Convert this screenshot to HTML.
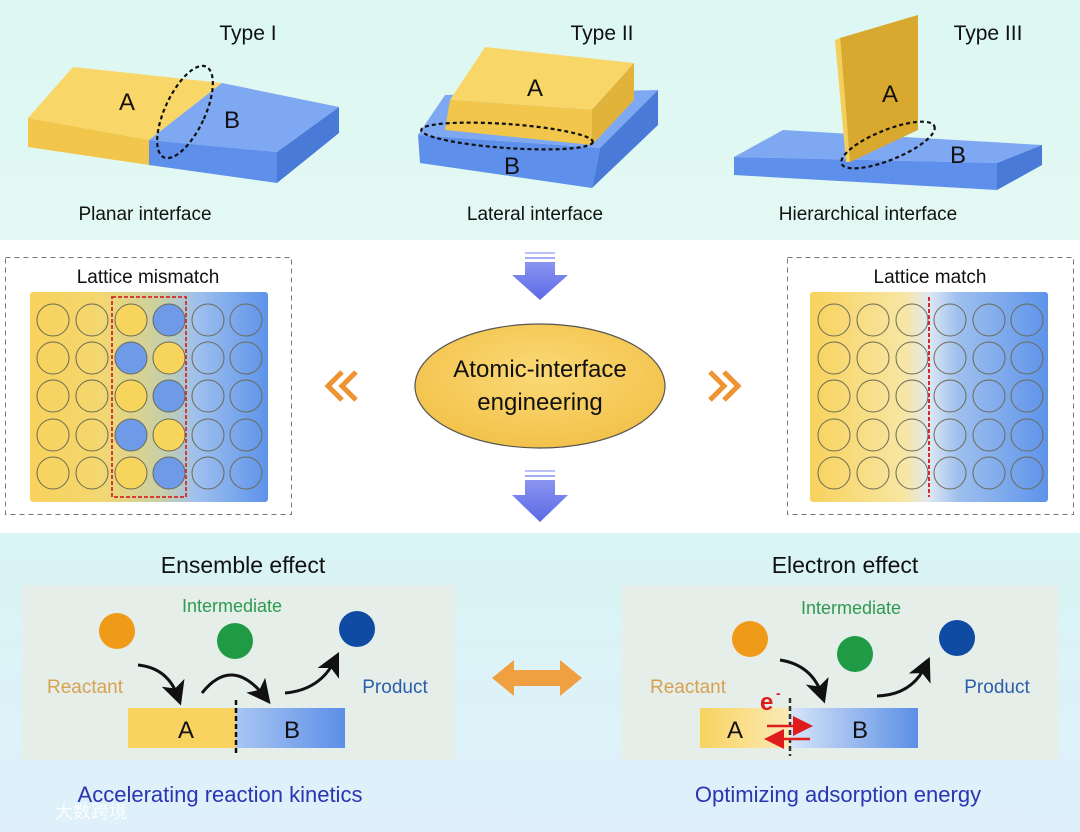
<!DOCTYPE html>
<html><head><meta charset="utf-8"><style>
html,body{margin:0;padding:0;background:#fff}
svg{display:block}
text{font-family:"Liberation Sans","Noto Sans CJK SC",sans-serif}
</style></head><body>
<svg width="1080" height="832" viewBox="0 0 1080 832" xmlns="http://www.w3.org/2000/svg">
<defs>
<linearGradient id="topbg" x1="0" y1="0" x2="0" y2="1"><stop offset="0" stop-color="#dcf7f2"/><stop offset="1" stop-color="#e3f8f3"/></linearGradient>
<linearGradient id="botbg" x1="0" y1="0" x2="0" y2="1"><stop offset="0" stop-color="#d9f5f5"/><stop offset="1" stop-color="#dff0fb"/></linearGradient>
<linearGradient id="latL" x1="0" y1="0" x2="1" y2="0"><stop offset="0" stop-color="#f8d25c"/><stop offset="0.3" stop-color="#f3d770"/><stop offset="0.55" stop-color="#c8d0a6"/><stop offset="0.7" stop-color="#9fc0ee"/><stop offset="1" stop-color="#5d93ea"/></linearGradient>
<linearGradient id="latR" x1="0" y1="0" x2="1" y2="0"><stop offset="0" stop-color="#f8d25c"/><stop offset="0.4" stop-color="#f7e6a4"/><stop offset="0.5" stop-color="#dfe8f3"/><stop offset="0.62" stop-color="#9fc0ee"/><stop offset="1" stop-color="#5d93ea"/></linearGradient>
<radialGradient id="ell" cx="0.5" cy="0.4" r="0.6"><stop offset="0" stop-color="#fbd976"/><stop offset="1" stop-color="#f2c24a"/></radialGradient>
<linearGradient id="barB" x1="0" y1="0" x2="1" y2="0"><stop offset="0" stop-color="#a9c6f4"/><stop offset="1" stop-color="#5b8fe6"/></linearGradient>
<linearGradient id="barA" x1="0" y1="0" x2="1" y2="0"><stop offset="0" stop-color="#f9d35f"/><stop offset="1" stop-color="#faeab8"/></linearGradient>
<linearGradient id="barB2" x1="0" y1="0" x2="1" y2="0"><stop offset="0" stop-color="#d7e5f8"/><stop offset="1" stop-color="#5b8fe6"/></linearGradient>
<linearGradient id="darr" x1="0" y1="0" x2="0" y2="1"><stop offset="0" stop-color="#8a95f0"/><stop offset="1" stop-color="#5c69e6"/></linearGradient>
<marker id="ah" markerWidth="8" markerHeight="8" refX="5" refY="4" orient="auto"><path d="M0,0 L8,4 L0,8 L2,4 z" fill="#111"/></marker>
<marker id="rh" markerWidth="8" markerHeight="8" refX="6" refY="4" orient="auto"><path d="M0,0 L8,4 L0,8 z" fill="#e01b1b"/></marker>
</defs>

<!-- top panel -->
<rect x="0" y="0" width="1080" height="240" fill="url(#topbg)"/>
<text x="248" y="40" font-size="21" text-anchor="middle" fill="#111">Type I</text>
<text x="602" y="40" font-size="21" text-anchor="middle" fill="#111">Type II</text>
<text x="988" y="40" font-size="21" text-anchor="middle" fill="#111">Type III</text>
<text x="145" y="220" font-size="19" text-anchor="middle" fill="#111">Planar interface</text>
<text x="535" y="220" font-size="19" text-anchor="middle" fill="#111">Lateral interface</text>
<text x="868" y="220" font-size="19" text-anchor="middle" fill="#111">Hierarchical interface</text>

<!-- Type I -->
<polygon points="28,118 73,67 222,83 149,140" fill="#f9d668"/>
<polygon points="28,118 149,140 149,165 28,147" fill="#f2c64b"/>
<polygon points="222,83 339,107 277,152 149,140" fill="#7fa8f2"/>
<polygon points="149,140 277,152 277,183 149,165" fill="#5e8fea"/>
<polygon points="277,152 339,107 339,133 277,183" fill="#4a7ad8"/>
<text x="127" y="110" font-size="24" text-anchor="middle" fill="#111">A</text>
<text x="232" y="128" font-size="24" text-anchor="middle" fill="#111">B</text>
<ellipse cx="185" cy="112" rx="20" ry="50" transform="rotate(25 185 112)" fill="none" stroke="#111" stroke-width="2.2" stroke-dasharray="4,3"/>

<!-- Type II -->
<polygon points="418,135 445,95 658,90 600,148" fill="#7fa8f2"/>
<polygon points="418,135 600,148 592,188 420,163" fill="#5e8fea"/>
<polygon points="600,148 658,90 658,125 592,188" fill="#4a7ad8"/>
<polygon points="450,100 485,47 634,63 592,110" fill="#f9d668"/>
<polygon points="450,100 592,110 592,145 445,130" fill="#f2c64b"/>
<polygon points="592,110 634,63 634,100 592,145" fill="#e2b33a"/>
<text x="535" y="96" font-size="24" text-anchor="middle" fill="#111">A</text>
<text x="512" y="174" font-size="24" text-anchor="middle" fill="#111">B</text>
<ellipse cx="507" cy="136" rx="86" ry="12" transform="rotate(4 507 136)" fill="none" stroke="#111" stroke-width="2.2" stroke-dasharray="4,3"/>

<!-- Type III -->
<polygon points="734,157 783,130 1042,145 997,163" fill="#7fa8f2"/>
<polygon points="734,157 997,163 997,190 734,175" fill="#5e8fea"/>
<polygon points="997,163 1042,145 1042,165 997,190" fill="#4a7ad8"/>
<polygon points="840,38 918,15 918,130 850,162" fill="#d8a92e"/>
<polygon points="835,40 840,38 850,162 846,162" fill="#f5cf5c"/>
<text x="890" y="102" font-size="24" text-anchor="middle" fill="#111">A</text>
<text x="958" y="163" font-size="24" text-anchor="middle" fill="#111">B</text>
<ellipse cx="888" cy="145" rx="50" ry="15" transform="rotate(-22 888 145)" fill="none" stroke="#111" stroke-width="2.2" stroke-dasharray="4,3"/>

<!-- middle -->
<rect x="5.5" y="257.5" width="286" height="257" fill="none" stroke="#777" stroke-dasharray="5,4"/>
<rect x="787.5" y="257.5" width="286" height="257" fill="none" stroke="#777" stroke-dasharray="5,4"/>
<text x="148" y="283" font-size="19" text-anchor="middle" fill="#111">Lattice mismatch</text>
<text x="930" y="283" font-size="19" text-anchor="middle" fill="#111">Lattice match</text>
<rect x="30" y="292" width="238" height="210" rx="3" fill="url(#latL)"/>
<rect x="810" y="292" width="238" height="210" rx="3" fill="url(#latR)"/>
<g fill="none" stroke="#6b6a55" stroke-width="1">
<g id="cols">
<circle cx="53" cy="320" r="16"/><circle cx="53" cy="358" r="16"/><circle cx="53" cy="396" r="16"/><circle cx="53" cy="435" r="16"/><circle cx="53" cy="473" r="16"/>
<circle cx="92" cy="320" r="16"/><circle cx="92" cy="358" r="16"/><circle cx="92" cy="396" r="16"/><circle cx="92" cy="435" r="16"/><circle cx="92" cy="473" r="16"/>
<circle cx="208" cy="320" r="16"/><circle cx="208" cy="358" r="16"/><circle cx="208" cy="396" r="16"/><circle cx="208" cy="435" r="16"/><circle cx="208" cy="473" r="16"/>
<circle cx="246" cy="320" r="16"/><circle cx="246" cy="358" r="16"/><circle cx="246" cy="396" r="16"/><circle cx="246" cy="435" r="16"/><circle cx="246" cy="473" r="16"/>
</g>
</g>
<g stroke="#6b6a55" stroke-width="1">
<circle cx="131" cy="320" r="16" fill="#f7d45c"/><circle cx="169" cy="320" r="16" fill="#6f9ae8"/>
<circle cx="131" cy="358" r="16" fill="#6f9ae8"/><circle cx="169" cy="358" r="16" fill="#f7d45c"/>
<circle cx="131" cy="396" r="16" fill="#f7d45c"/><circle cx="169" cy="396" r="16" fill="#6f9ae8"/>
<circle cx="131" cy="435" r="16" fill="#6f9ae8"/><circle cx="169" cy="435" r="16" fill="#f7d45c"/>
<circle cx="131" cy="473" r="16" fill="#f7d45c"/><circle cx="169" cy="473" r="16" fill="#6f9ae8"/>
</g>
<rect x="112" y="297" width="74" height="200" fill="none" stroke="#d42a2a" stroke-width="1.8" stroke-dasharray="4,2"/>
<g fill="none" stroke="#6b6a55" stroke-width="1">
<g transform="translate(781,0)">
<circle cx="53" cy="320" r="16"/><circle cx="53" cy="358" r="16"/><circle cx="53" cy="396" r="16"/><circle cx="53" cy="435" r="16"/><circle cx="53" cy="473" r="16"/>
<circle cx="92" cy="320" r="16"/><circle cx="92" cy="358" r="16"/><circle cx="92" cy="396" r="16"/><circle cx="92" cy="435" r="16"/><circle cx="92" cy="473" r="16"/>
<circle cx="131" cy="320" r="16"/><circle cx="131" cy="358" r="16"/><circle cx="131" cy="396" r="16"/><circle cx="131" cy="435" r="16"/><circle cx="131" cy="473" r="16"/>
<circle cx="169" cy="320" r="16"/><circle cx="169" cy="358" r="16"/><circle cx="169" cy="396" r="16"/><circle cx="169" cy="435" r="16"/><circle cx="169" cy="473" r="16"/>
<circle cx="208" cy="320" r="16"/><circle cx="208" cy="358" r="16"/><circle cx="208" cy="396" r="16"/><circle cx="208" cy="435" r="16"/><circle cx="208" cy="473" r="16"/>
<circle cx="246" cy="320" r="16"/><circle cx="246" cy="358" r="16"/><circle cx="246" cy="396" r="16"/><circle cx="246" cy="435" r="16"/><circle cx="246" cy="473" r="16"/>
</g>
</g>
<line x1="929" y1="297" x2="929" y2="497" stroke="#d42a2a" stroke-width="2" stroke-dasharray="4,2"/>

<ellipse cx="540" cy="386" rx="125" ry="62" fill="url(#ell)" stroke="#555" stroke-width="1.2"/>
<text x="540" y="377" font-size="24" text-anchor="middle" fill="#111">Atomic-interface</text>
<text x="540" y="410" font-size="24" text-anchor="middle" fill="#111">engineering</text>

<!-- down arrows -->
<g fill="url(#darr)">
<rect x="525" y="252" width="30" height="2" fill="#b8c0f5"/>
<rect x="525" y="257" width="30" height="2" fill="#a4aef3"/>
<polygon points="525,262 555,262 555,275 568,275 540,300 512,275 525,275"/>
<rect x="525" y="470" width="30" height="2" fill="#b8c0f5"/>
<rect x="525" y="475" width="30" height="2" fill="#a4aef3"/>
<polygon points="525,480 555,480 555,495 568,495 540,522 512,495 525,495"/>
</g>
<!-- chevrons -->
<g fill="none" stroke="#ef9332" stroke-width="5">
<polyline points="342,372 328,386 342,400"/><polyline points="356,372 342,386 356,400"/>
<polyline points="710,372 724,386 710,400"/><polyline points="724,372 738,386 724,400"/>
</g>

<!-- bottom panel -->
<rect x="0" y="533" width="1080" height="299" fill="url(#botbg)"/>
<rect x="22" y="585" width="433" height="175" fill="#e5eee9"/>
<rect x="622" y="585" width="436" height="175" fill="#e5eee9"/>
<text x="243" y="573" font-size="23" text-anchor="middle" fill="#111">Ensemble effect</text>
<text x="845" y="573" font-size="23" text-anchor="middle" fill="#111">Electron effect</text>

<text x="232" y="612" font-size="18" text-anchor="middle" fill="#2e9a50">Intermediate</text>
<circle cx="117" cy="631" r="18" fill="#ef9a19"/>
<circle cx="235" cy="641" r="18" fill="#1f9a45"/>
<circle cx="357" cy="629" r="18" fill="#0f4aa3"/>
<text x="85" y="693" font-size="19" text-anchor="middle" fill="#d8a153">Reactant</text>
<text x="395" y="693" font-size="19" text-anchor="middle" fill="#2b5ea8">Product</text>
<path d="M138,665 Q168,668 178,697" fill="none" stroke="#111" stroke-width="3" marker-end="url(#ah)"/>
<path d="M202,693 Q232,655 265,697" fill="none" stroke="#111" stroke-width="3" marker-end="url(#ah)"/>
<path d="M285,693 Q320,690 335,660" fill="none" stroke="#111" stroke-width="3" marker-end="url(#ah)"/>
<rect x="128" y="708" width="108" height="40" fill="#f9d35f"/>
<rect x="236" y="708" width="109" height="40" fill="url(#barB)"/>
<line x1="236" y1="700" x2="236" y2="756" stroke="#111" stroke-width="2.5" stroke-dasharray="5,3"/>
<text x="186" y="738" font-size="24" text-anchor="middle" fill="#111">A</text>
<text x="292" y="738" font-size="24" text-anchor="middle" fill="#111">B</text>
<text x="220" y="802" font-size="22" text-anchor="middle" fill="#2a35b0">Accelerating reaction kinetics</text>

<text x="851" y="614" font-size="18" text-anchor="middle" fill="#2e9a50">Intermediate</text>
<circle cx="750" cy="639" r="18" fill="#ef9a19"/>
<circle cx="855" cy="654" r="18" fill="#1f9a45"/>
<circle cx="957" cy="638" r="18" fill="#0f4aa3"/>
<text x="688" y="693" font-size="19" text-anchor="middle" fill="#d8a153">Reactant</text>
<text x="997" y="693" font-size="19" text-anchor="middle" fill="#2b5ea8">Product</text>
<path d="M780,660 Q812,665 822,695" fill="none" stroke="#111" stroke-width="3" marker-end="url(#ah)"/>
<path d="M877,696 Q912,695 926,665" fill="none" stroke="#111" stroke-width="3" marker-end="url(#ah)"/>
<rect x="700" y="708" width="90" height="40" fill="url(#barA)"/>
<rect x="790" y="708" width="128" height="40" fill="url(#barB2)"/>
<line x1="790" y1="698" x2="790" y2="756" stroke="#333" stroke-width="2.5" stroke-dasharray="5,3"/>
<text x="735" y="738" font-size="24" text-anchor="middle" fill="#111">A</text>
<text x="860" y="738" font-size="24" text-anchor="middle" fill="#111">B</text>
<text x="760" y="710" font-size="24" font-weight="bold" fill="#e01b1b">e</text>
<text x="776" y="698" font-size="14" font-weight="bold" fill="#e01b1b">-</text>
<line x1="767" y1="726" x2="808" y2="726" stroke="#e01b1b" stroke-width="2.5" marker-end="url(#rh)"/>
<line x1="810" y1="739" x2="769" y2="739" stroke="#e01b1b" stroke-width="2.5" marker-end="url(#rh)"/>
<text x="838" y="802" font-size="22" text-anchor="middle" fill="#2a35b0">Optimizing adsorption energy</text>

<!-- double arrow -->
<polygon points="492,678 514,660 514,670 560,670 560,660 582,678 560,696 560,686 514,686 514,696" fill="#f0a040"/>

<text x="55" y="818" font-size="18" fill="#ffffff" opacity="0.9">大数跨境</text>
</svg>
</body></html>
